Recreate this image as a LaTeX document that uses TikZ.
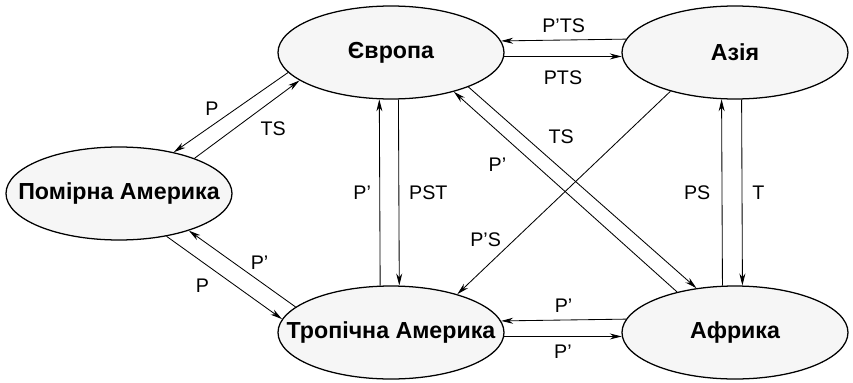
\documentclass[tikz,border=0pt]{standalone}
\usepackage{fontspec}
\setmainfont{Liberation Sans}
\usepackage{tikz}
\usetikzlibrary{shapes, arrows.meta, positioning}
\tikzstyle{region} = [ellipse, minimum width=5.65cm, minimum height=2.325cm, inner xsep=-1.2cm, text centered, draw=black, line width=0.9pt, fill=gray!7, font=\fontsize{16.5}{18}\selectfont\bfseries]
\tikzstyle{flow} = [-{Stealth[length=3mm, width=1.5mm]}, line width=0.6pt]
\tikzstyle{lbl} = [font=\fontsize{14}{16}\selectfont, inner sep=2pt]

\begin{document}
\begin{tikzpicture}[node distance=4cm]
\useasboundingbox (-9.775,-8.2375) rectangle (11.55,1.3125);
\node (evr) [region] {Європа};
\node (asia) [region, right of=evr, xshift=4.6cm] {Азія};
\node (pom) [region, below of=evr, xshift=-6.8cm, yshift=0.475cm] {Помірна Америка};
\node (trop) [region, below of=evr, yshift=-3cm] {Тропічна Америка};
\node (afr) [region, below of=asia, yshift=-3cm] {Африка};
% horizontal pairs
\draw [flow] (asia.173.7) -- node[lbl, above=3pt] {P’TS} (evr.6.3);
\draw [flow] (evr.-2.5) -- node[lbl, below=8pt] {PTS} (asia.182.5);
\draw [flow] (afr.173.7) -- node[lbl, above=3pt] {P’} (trop.6.3);
\draw [flow] (trop.-2.5) -- node[lbl, below=4pt] {P’} (afr.182.5);
% vertical pairs
\draw [flow] (trop.103.4) -- node[lbl, left=4pt] {P’} (evr.256.6);
\draw [flow] (evr.279.8) -- node[lbl, right=5pt] {PST} (trop.80.2);
\draw [flow] (afr.105.7) -- node[lbl, left=6pt] {PS} (asia.254.3);
\draw [flow] (asia.278.6) -- node[lbl, right=5pt] {T} (afr.81.4);
% diagonals
\draw [flow] (evr.191.5) -- node[lbl, pos=0.58, above left] {P} (pom.37.9);
\draw [flow] (pom.25.8) -- node[lbl, pos=0.56, below right=4pt] {TS} (evr.197.6);
\draw [flow] (pom.318.7) -- node[lbl, pos=0.43, below left=4pt] {P} (trop.173.7);
\draw [flow] (trop.165.4) -- node[lbl, pos=0.45, above right] {P’} (pom.332.4);
\draw [flow] (evr.336.4) -- node[lbl, pos=0.32, above right=4pt] {TS} (afr.131);
\draw [flow] (afr.145.4) -- node[lbl, pos=0.72, below left=7pt] {P’} (evr.328.5);
\draw [flow] (asia.211.2) -- node[lbl, pos=0.78, above left] {P’S} (trop.30.4);
\end{tikzpicture}
\end{document}
